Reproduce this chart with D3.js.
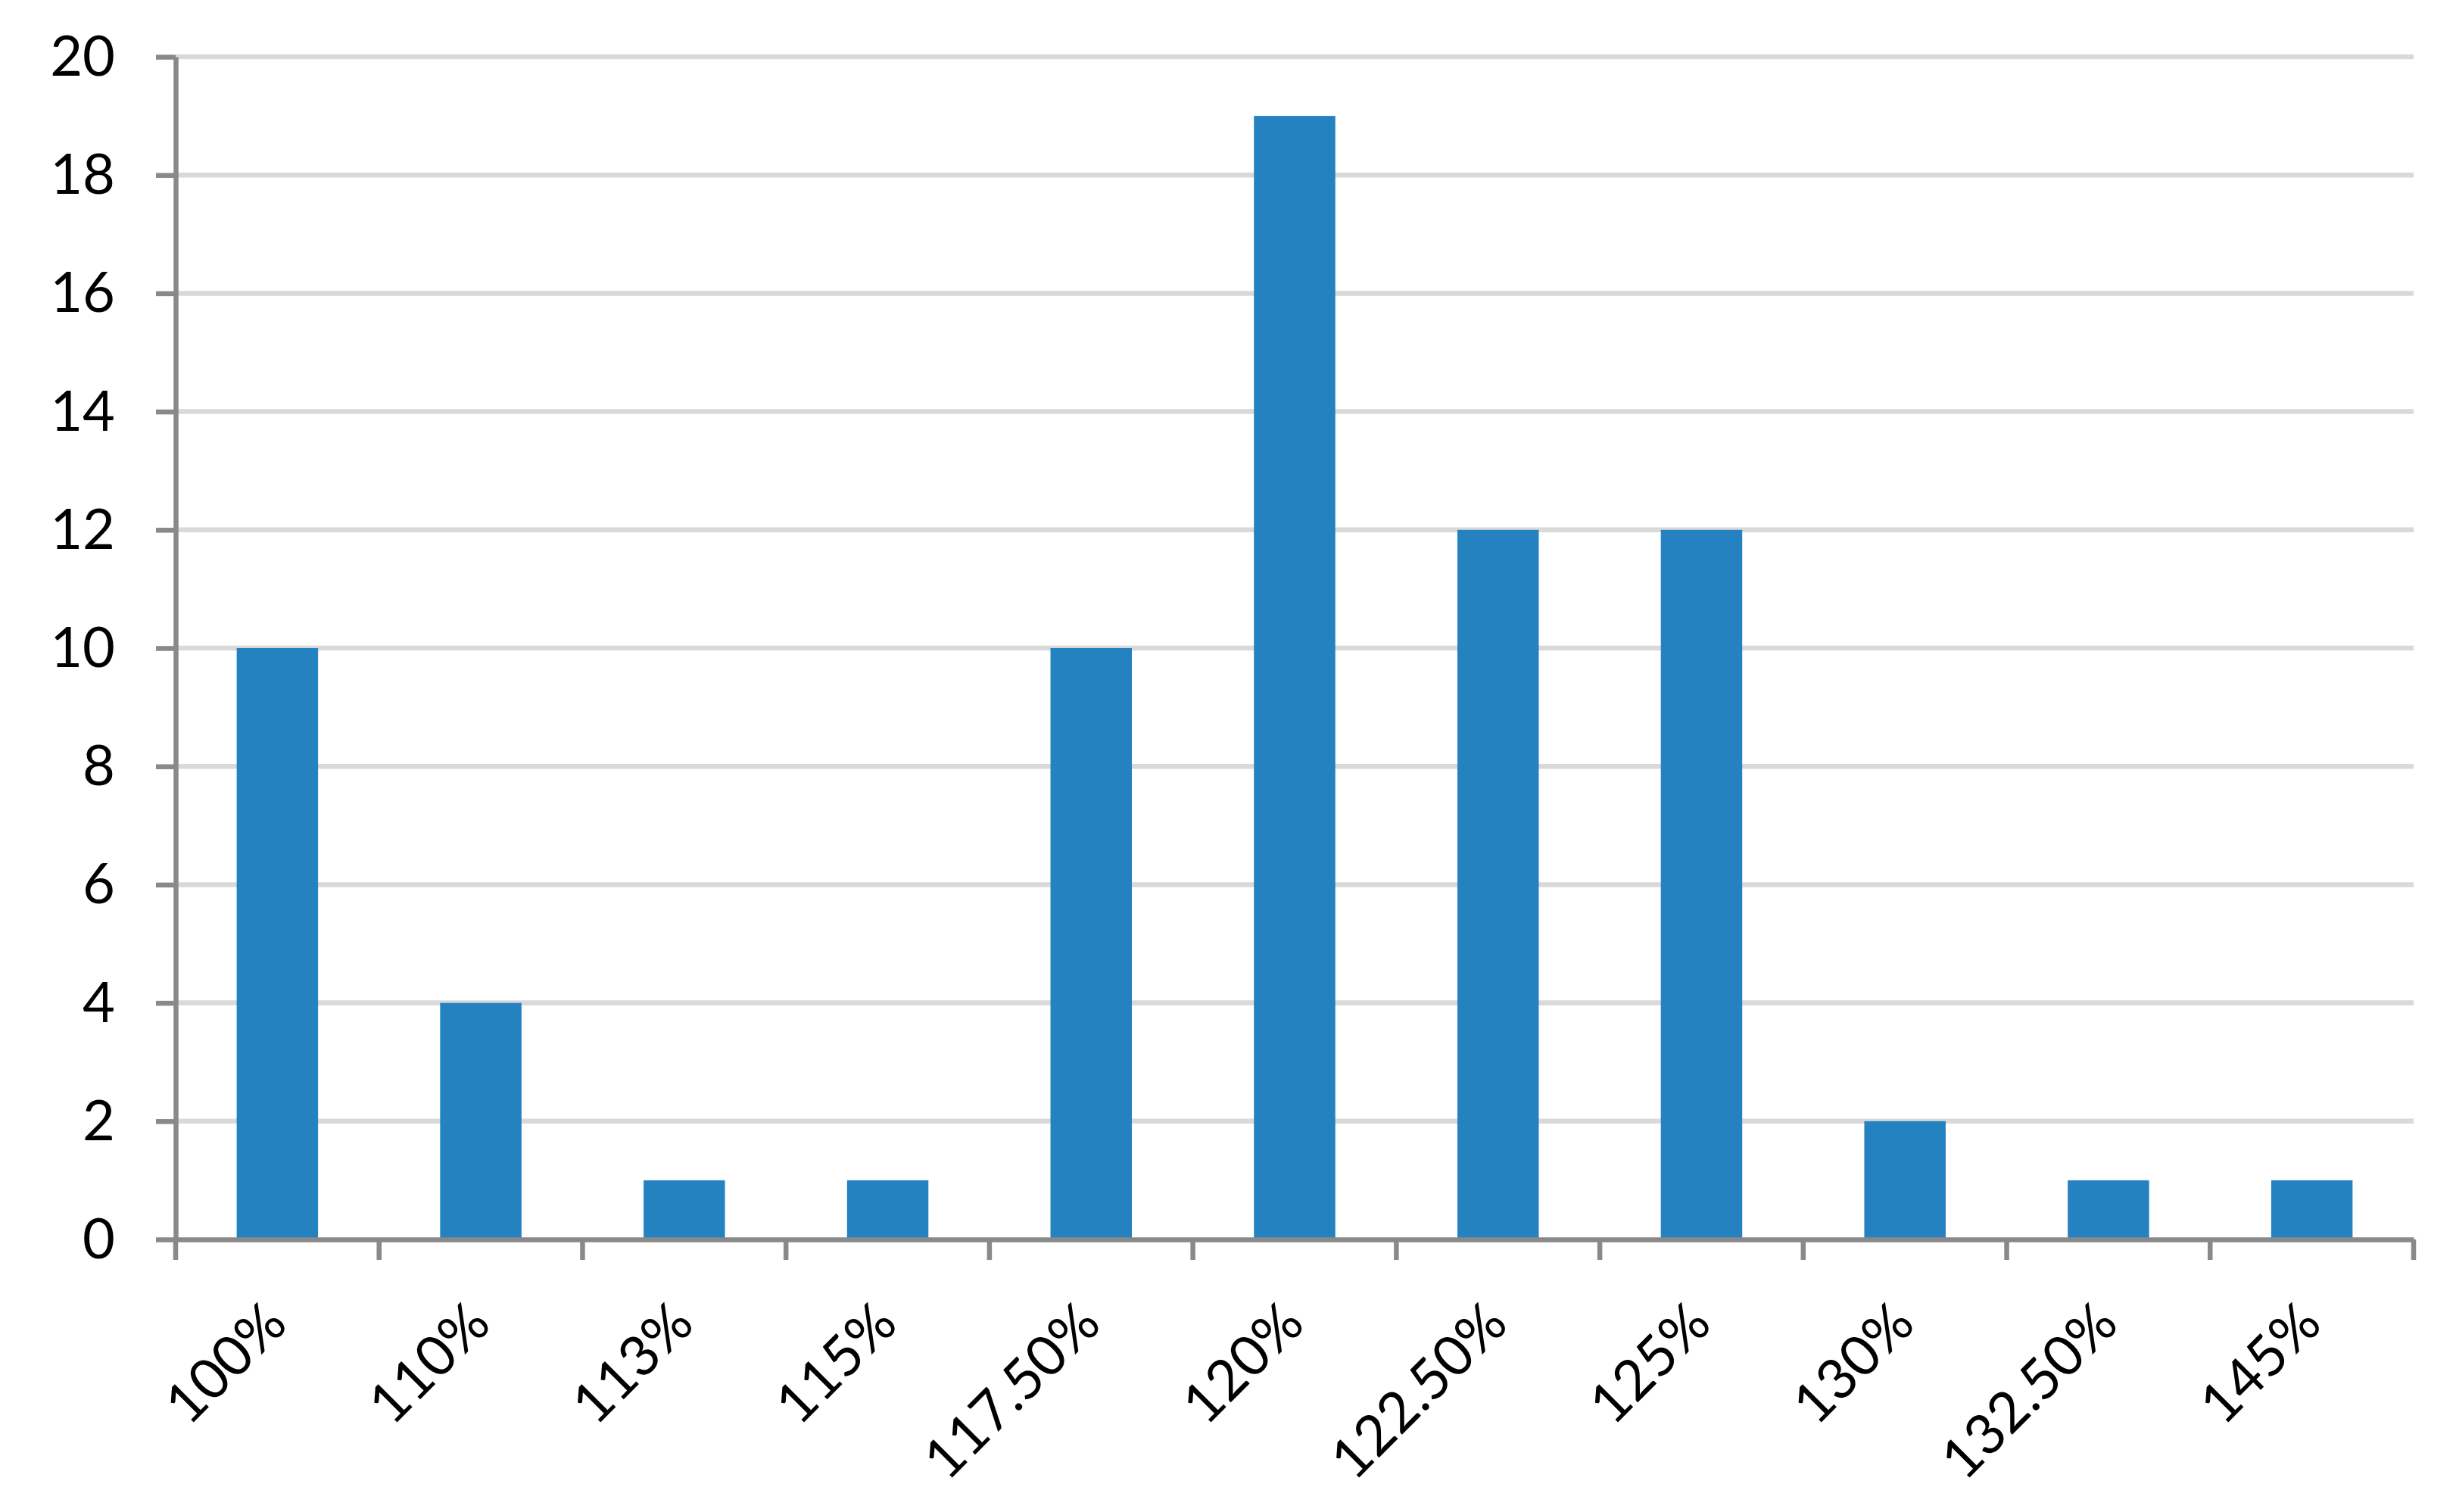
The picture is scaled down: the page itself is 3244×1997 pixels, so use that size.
<!DOCTYPE html>
<html>
<head>
<meta charset="utf-8">
<script src="https://cdn.jsdelivr.net/npm/d3@7"></script>
<style>
  body { margin: 0; background: #fff; }
  text { font-family: Lato, "Open Sans", sans-serif; fill: #000; }
</style>
</head>
<body>
<script>
// values
var categories = ["100%", "110%", "113%", "115%", "117.50%", "120%", "122.50%", "125%", "130%", "132.50%", "145%"];
var counts = [10, 4, 1, 1, 10, 19, 12, 12, 2, 1, 1];
var yTicks = [0, 2, 4, 6, 8, 10, 12, 14, 16, 18, 20];

var margin = {top: 75, right: 56, bottom: 360, left: 232},
    width = 3244 - margin.left - margin.right,
    height = 1997 - margin.top - margin.bottom;

var axisColor = "#898989",
    gridColor = "#d9d9d9",
    barColor = "#2582c1";

var svg = d3.select("body")
  .append("svg")
    .attr("width", 3244)
    .attr("height", 1997)
  .append("g")
    .attr("transform", "translate(" + margin.left + "," + margin.top + ")");

var x = d3.scaleBand()
    .domain(categories)
    .range([0, width])
    .padding(0);

var y = d3.scaleLinear()
    .domain([0, 20])
    .range([height, 0]);

// gridlines
svg.append("g")
    .selectAll("line")
    .data(yTicks.filter(function(d) { return d > 0; }))
    .enter().append("line")
      .attr("x1", 0)
      .attr("x2", width)
      .attr("y1", function(d) { return y(d); })
      .attr("y2", function(d) { return y(d); })
      .style("stroke", gridColor)
      .style("stroke-width", 6.5);

// bars
var bw = x.bandwidth() * 0.4;
svg.append("g")
    .selectAll("rect")
    .data(counts)
    .enter().append("rect")
      .attr("x", function(d, i) { return x(categories[i]) + (x.bandwidth() - bw) / 2; })
      .attr("y", function(d) { return y(d); })
      .attr("width", bw)
      .attr("height", function(d) { return height - y(d); })
      .attr("fill", barColor);

// y axis
var yAxis = svg.append("g")
    .call(d3.axisLeft(y).tickValues(yTicks).tickSize(26).tickSizeOuter(0).tickPadding(54));
yAxis.selectAll("path, line")
    .style("stroke", axisColor)
    .style("stroke-width", 6.5);
yAxis.selectAll("text")
    .attr("dy", "0.33em")
    .style("font-size", "74px")
    .style("font-family", "Lato");

// x axis
var xAxis = svg.append("g")
    .attr("transform", "translate(0," + height + ")")
    .call(d3.axisBottom(x).tickSize(0).tickSizeOuter(0).tickFormat(""));
xAxis.select("path")
    .style("stroke", axisColor)
    .style("stroke-width", 6.5);

var bounds = categories.map(function(c) { return x(c); }).concat([width]);
xAxis.selectAll(".bound")
    .data(bounds)
    .enter().append("line")
      .attr("class", "bound")
      .attr("x1", function(d) { return d; })
      .attr("x2", function(d) { return d; })
      .attr("y1", 0)
      .attr("y2", 27)
      .style("stroke", axisColor)
      .style("stroke-width", 6.5);

xAxis.selectAll(".lbl")
    .data(categories)
    .enter().append("text")
      .attr("class", "lbl")
      .attr("text-anchor", "end")
      .attr("transform", function(d) {
        return "translate(" + (x(d) + x.bandwidth() / 2 + 16) + ",115) rotate(-45)";
      })
      .style("font-size", "74px")
      .style("font-family", "Lato")
      .text(function(d) { return d; });
</script>
</body>
</html>
